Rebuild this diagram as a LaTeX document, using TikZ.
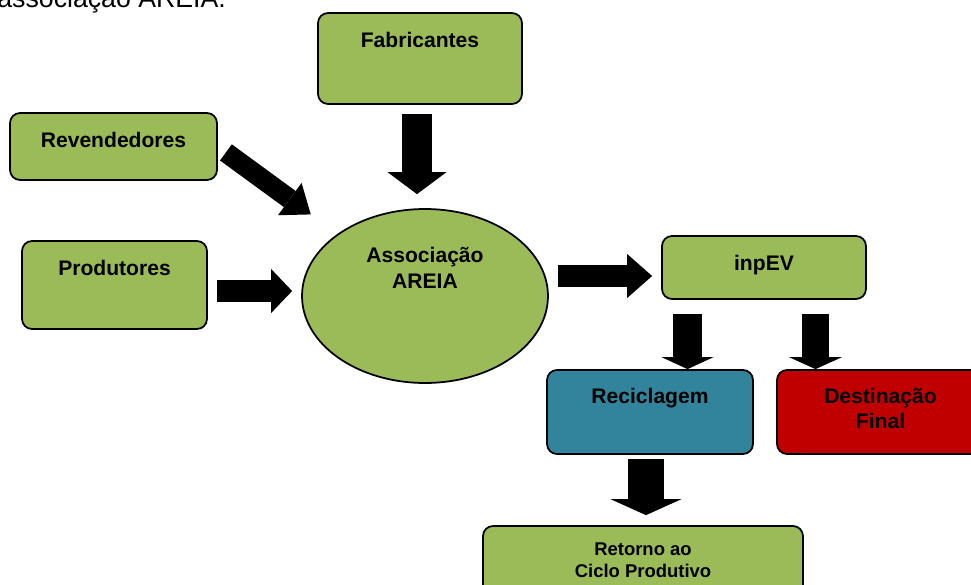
\documentclass[tikz,border=0pt]{standalone}
\usepackage{fontspec}
\setmainfont{Liberation Sans}
\usepackage{xcolor}
\usepackage{tikz}
\usetikzlibrary{arrows.meta,positioning,shapes.geometric}

\definecolor{boxgreen}{HTML}{9BBB59}
\definecolor{boxteal}{HTML}{31849B}
\definecolor{boxred}{HTML}{C00000}

\begin{document}
\begin{tikzpicture}[
        x=0.02cm, y=-0.02cm,
        flowbox/.style={draw, rectangle, rounded corners=0.2cm, line width=1pt, fill=boxgreen, inner sep=0pt, align=center, font=\fontsize{12}{14.5}\selectfont\bfseries},
        assocshape/.style={draw, ellipse, line width=1pt, fill=boxgreen, inner sep=0pt, minimum width=4.92cm, minimum height=3.48cm},
        fatarrow/.style n args={3}{line width=#1, -{Triangle[width=#2, length=#3, line width=0pt]}}
    ]
        \useasboundingbox (0,0) rectangle (971,585);
        \clip (0,0) rectangle (971,585);

        \node[anchor=base west, inner sep=0pt, font=\fontsize{15.2}{18}\selectfont] (caption) at (-3,7) {associação AREIA.};

        \node[flowbox, minimum width=4.08cm, text height=0.68cm, text depth=1.14cm] (fab) at (420,58.5) {Fabricantes};
        \node[flowbox, minimum width=4.14cm, text height=0.68cm, text depth=0.66cm] (rev) at (113.5,146.5) {Revendedores};
        \node[flowbox, minimum width=3.70cm, text height=0.68cm, text depth=1.08cm] (prod) at (114.5,285) {Produtores};
        \node[assocshape] (assoc) at (425,296) {};
        % last line sits on the base anchor
        \node[anchor=base, inner sep=0pt, align=center, font=\fontsize{12}{14.7}\selectfont\bfseries] (assoctext) at (425,288) {Associação\\AREIA};
        \node[flowbox, minimum width=4.08cm, text height=0.68cm, text depth=0.58cm] (inp) at (764,267.5) {inpEV};
        \node[flowbox, fill=boxteal, minimum width=4.12cm, text height=0.66cm, text depth=1.02cm] (rec) at (650,412) {Reciclagem};
        \node[flowbox, fill=boxred, minimum width=4.14cm, text height=1.16cm, text depth=0.52cm, font=\fontsize{12}{14.2}\selectfont\bfseries] (dest) at (880.5,412) {Destinação\\Final};
        \node[flowbox, minimum width=6.40cm, text height=1.02cm, text depth=0.68cm, font=\fontsize{10.5}{12.5}\selectfont\bfseries] (ret) at (643,568.5) {Retorno ao\\Ciclo Produtivo};

        \draw[fatarrow={0.6cm}{1.18cm}{0.44cm}, shorten <=0.18cm, shorten >=0.28cm] ([xshift=-0.06cm]fab.south) -- ([xshift=-0.06cm]fab.south |- assoc.north);
        \draw[fatarrow={0.4cm}{0.8cm}{0.52cm}, shorten <=0.2cm, shorten >=0.66cm] (rev.east) -- (assoc.north west);
        \draw[fatarrow={0.44cm}{0.88cm}{0.42cm}, shorten <=0.18cm, shorten >=0.18cm] ([yshift=-0.12cm]prod.east) -- ([yshift=-0.12cm]prod.east -| assoc.west);
        \draw[fatarrow={0.44cm}{0.88cm}{0.5cm}, shorten <=0.18cm, shorten >=0.18cm] ([yshift=-0.17cm]inp.west -| assoc.east) -- ([yshift=-0.17cm]inp.west);
        \draw[fatarrow={0.58cm}{1.04cm}{0.24cm}, shorten <=0.28cm] ([xshift=-1.53cm]inp.south) -- ([xshift=-1.53cm]inp.south |- rec.north);
        \draw[fatarrow={0.54cm}{1.06cm}{0.24cm}, shorten <=0.28cm] ([xshift=1.03cm]inp.south) -- ([xshift=1.03cm]inp.south |- dest.north);
        \draw[fatarrow={0.72cm}{1.42cm}{0.32cm}, shorten <=0.08cm, shorten >=0.2cm] ([xshift=-0.08cm]rec.south) -- ([xshift=-0.08cm]rec.south |- ret.north);
    \end{tikzpicture}
\end{document}
